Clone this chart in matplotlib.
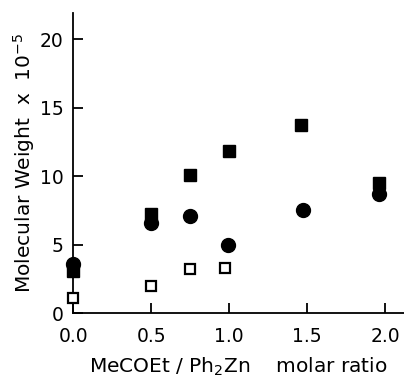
import matplotlib
matplotlib.use("Agg")
import matplotlib.pyplot as plt

# MeCOEt / Ph2Zn molar ratio vs molecular weight (x 10^-5)
sq_x = [0.0, 0.5, 0.75, 1.0, 1.46, 1.96]
sq_y = [3.1, 7.2, 10.1, 11.8, 13.7, 9.5]
circ_x = [0.0, 0.5, 0.75, 0.99, 1.47, 1.96]
circ_y = [3.6, 6.6, 7.1, 5.0, 7.5, 8.7]
open_x = [0.0, 0.5, 0.75, 0.97]
open_y = [1.1, 2.0, 3.2, 3.3]

xticks = [0.0, 0.5, 1.0, 1.5, 2.0]
xticklabels = ["0.0", "0.5", "1.0", "1.5", "2.0"]
yticks = [0, 5, 10, 15, 20]

fig = plt.figure(figsize=(4.04, 3.81), dpi=100)
ax = fig.add_axes([0.181, 0.178, 0.819, 0.788])

ax.plot(sq_x, sq_y, "s", color="black", ms=8.5, clip_on=False, zorder=3)
ax.plot(circ_x, circ_y, "o", color="black", ms=10, clip_on=False, zorder=3)
ax.plot(open_x, open_y, "s", mfc="white", mec="black", mew=1.6, ms=7.5, clip_on=False, zorder=3)

ax.set_xlim(0, 2.12)
ax.set_ylim(0, 21.9)
ax.set_xticks(xticks)
ax.set_xticklabels(xticklabels)
ax.set_yticks(yticks)
for s in ("top", "right"):
    ax.spines[s].set_visible(False)
for s in ("left", "bottom"):
    ax.spines[s].set_linewidth(1.3)
ax.tick_params(direction="in", length=7, width=1.3, labelsize=13.5)
ax.tick_params(axis="x", pad=10)
ax.tick_params(axis="y", pad=7)

ax.set_ylabel("Molecular Weight  x  10$^{-5}$", fontsize=14.5, labelpad=2)
ax.set_xlabel("MeCOEt / Ph$_2$Zn    molar ratio", fontsize=14.5, labelpad=7)

fig.savefig("out.png", dpi=100)
